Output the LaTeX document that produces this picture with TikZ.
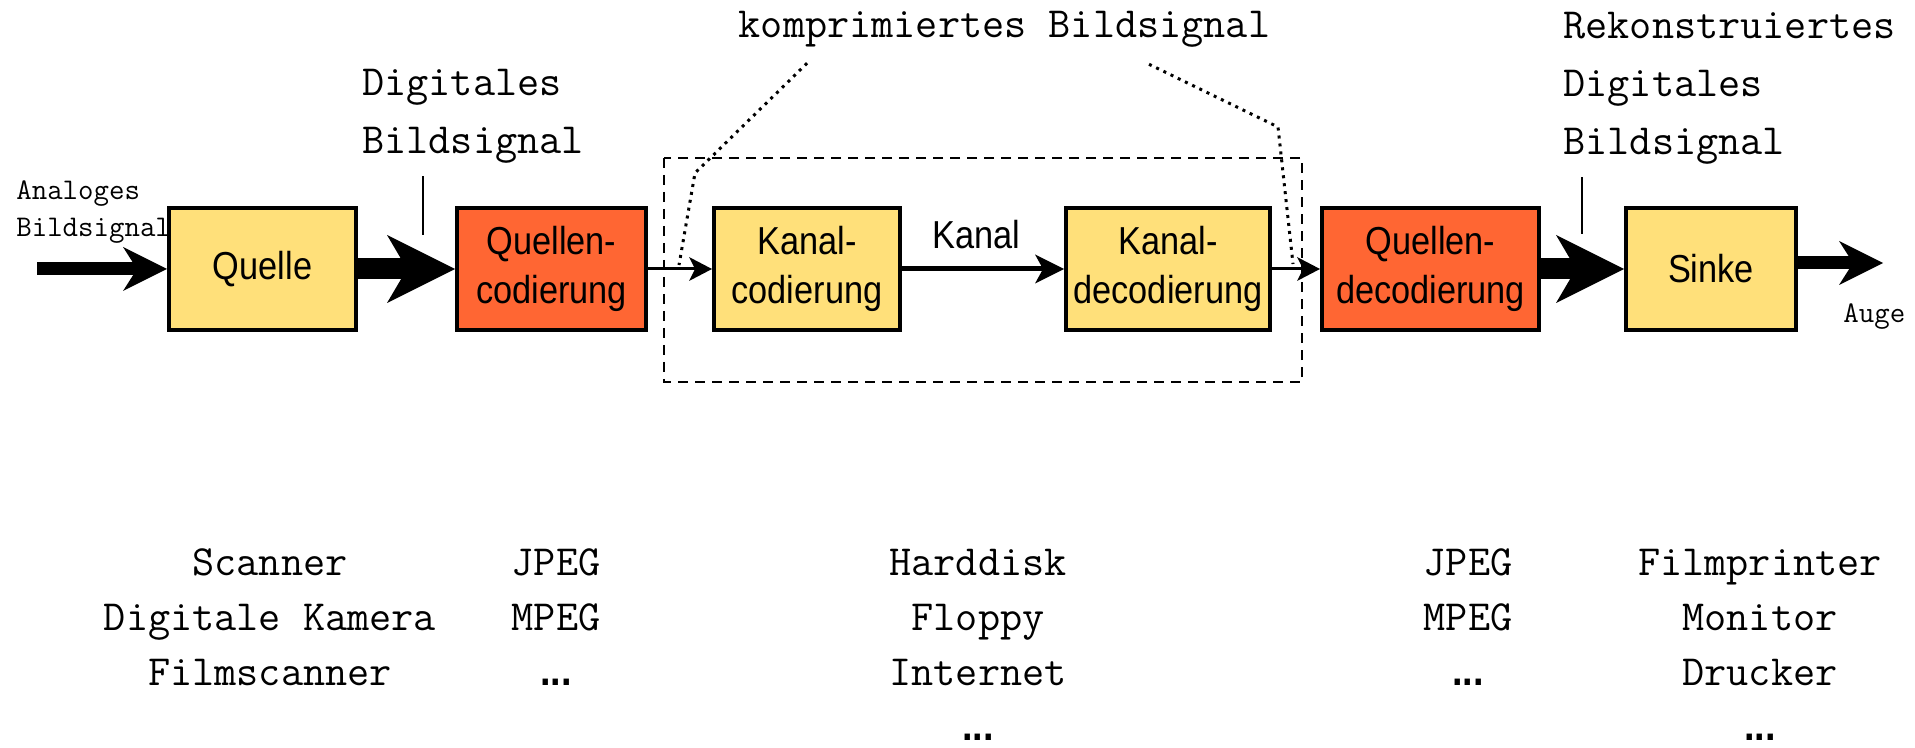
\documentclass[tikz,border=0pt]{standalone}
\usepackage{fontspec}
\usepackage{tikz}
\usetikzlibrary{arrows.meta,positioning}
\newfontfamily\boxfont[FakeStretch=0.88]{Liberation Sans}
\definecolor{boxYellow}{HTML}{FFE07A}
\definecolor{boxOrange}{HTML}{FF6633}
\newcommand{\weiter}{{\boxfont\bfseries ...}}

\begin{document}
\begin{tikzpicture}[
    x=0.5pt, y=-0.5pt,
    every node/.style={inner sep=0pt},
    srcbox/.style={draw, line width=2pt, fill=boxOrange, minimum height=61pt, align=center, font=\boxfont\fontsize{19.5}{24.5}\selectfont},
    chanbox/.style={srcbox, fill=boxYellow},
    sigtext/.style={align=left, font=\ttfamily\fontsize{21.5}{29}\selectfont},
    sigsmall/.style={align=left, font=\ttfamily\fontsize{15}{18.5}\selectfont},
    listtext/.style={align=center, font=\ttfamily\fontsize{21.5}{27.5}\selectfont},
    fatarrow/.style={line width=10.5pt, -{Stealth[length=34pt, width=34pt, inset=10pt, line width=0pt]}},
    midarrow/.style={line width=6.5pt, -{Stealth[length=22pt, width=22pt, inset=7pt, line width=0pt]}},
    chanarrow/.style={line width=2.5pt, -{Stealth[length=14.5pt, width=14.5pt, inset=4pt, line width=0pt]}},
    thinarrow/.style={line width=1.5pt, -{Stealth[length=11.5pt, width=12pt, inset=3pt, line width=0pt]}},
    tickline/.style={line width=1pt},
    dotline/.style={line width=1.5pt, dash pattern=on 1.5pt off 2.5pt},
    dashline/.style={line width=1.3pt, dash pattern=on 5pt off 3.5pt}
]
    \useasboundingbox (0,0) rectangle (1915,748);

    % Kette
    \node[chanbox, minimum width=93.5pt] (quelle) at (262.5,269) {Quelle};
    \node[srcbox, minimum width=94.5pt, right=48.5pt of quelle] (qcod) {Quellen-\\codierung};
    \node[chanbox, minimum width=93pt, right=32pt of qcod] (kcod) {Kanal-\\codierung};
    \node[chanbox, minimum width=102pt, right=81pt of kcod] (kdec) {Kanal-\\decodierung};
    \node[srcbox, minimum width=108.5pt, right=24pt of kdec] (qdec) {Quellen-\\decodierung};
    \node[chanbox, minimum width=85pt, right=41.5pt of qdec] (sinke) {Sinke};

    \coordinate[left=65pt of quelle] (ein);
    \coordinate (aus) at ([xshift=42.5pt, yshift=3pt]sinke.east);

    \draw[midarrow] (ein) -- (quelle);
    \draw[fatarrow] (quelle) -- (qcod);
    \draw[thinarrow] (qcod) -- (kcod);
    \draw[chanarrow] (kcod) -- node[above=9pt, xshift=-3.5pt, font=\boxfont\fontsize{19.5}{24.5}\selectfont] (kanal) {Kanal} (kdec);
    \draw[thinarrow] (kdec) -- (qdec);
    \draw[fatarrow] (qdec) -- (sinke);
    \draw[midarrow] (sinke.east |- aus) -- (aus);

    % Beschriftung (base = letzte Zeile)
    \node[sigsmall, anchor=base west] (analog) at (16,237) {Analoges\\Bildsignal};
    \node[sigtext, anchor=base west] (digl) at (362,154) {Digitales\\Bildsignal};
    \node[sigtext, anchor=base] (komp) at (1004.5,38) {komprimiertes Bildsignal};
    \node[sigtext, anchor=base west] (rek) at (1563,155) {Rekonstruiertes\\Digitales\\Bildsignal};
    \node[sigsmall, anchor=base west] (auge) at (1843,323) {Auge};

    \draw[tickline] ([xshift=30.5pt, yshift=-6pt]digl.south west) -- ++(0,59);
    \draw[tickline] ([xshift=9.5pt, yshift=-6pt]rek.south west) -- ++(0,57);

    \draw[dashline] ([xshift=-24pt, yshift=24pt]kcod.north west) rectangle ([xshift=15pt, yshift=-25pt]kdec.south east);
    \draw[dotline] ([xshift=-98.75pt, yshift=-7.5pt]komp.south) -- (695,173) -- (679,265);
    \draw[dotline] ([xshift=72.25pt, yshift=-8pt]komp.south) -- (1278,127) -- (1293,264);

    % Beispiele
    \node[listtext, anchor=base] (geraete) at (270,685) {Scanner\\Digitale Kamera\\Filmscanner};
    \node[listtext, anchor=base] (qformat) at (556,685) {JPEG\\MPEG\\\weiter};
    \node[listtext, anchor=base] (speicher) at (978,740) {Harddisk\\Floppy\\Internet\\\weiter};
    \node[listtext, anchor=base] (dformat) at (1468,685) {JPEG\\MPEG\\\weiter};
    \node[listtext, anchor=base] (ausgabe) at (1760,740) {Filmprinter\\Monitor\\Drucker\\\weiter};
\end{tikzpicture}
\end{document}
